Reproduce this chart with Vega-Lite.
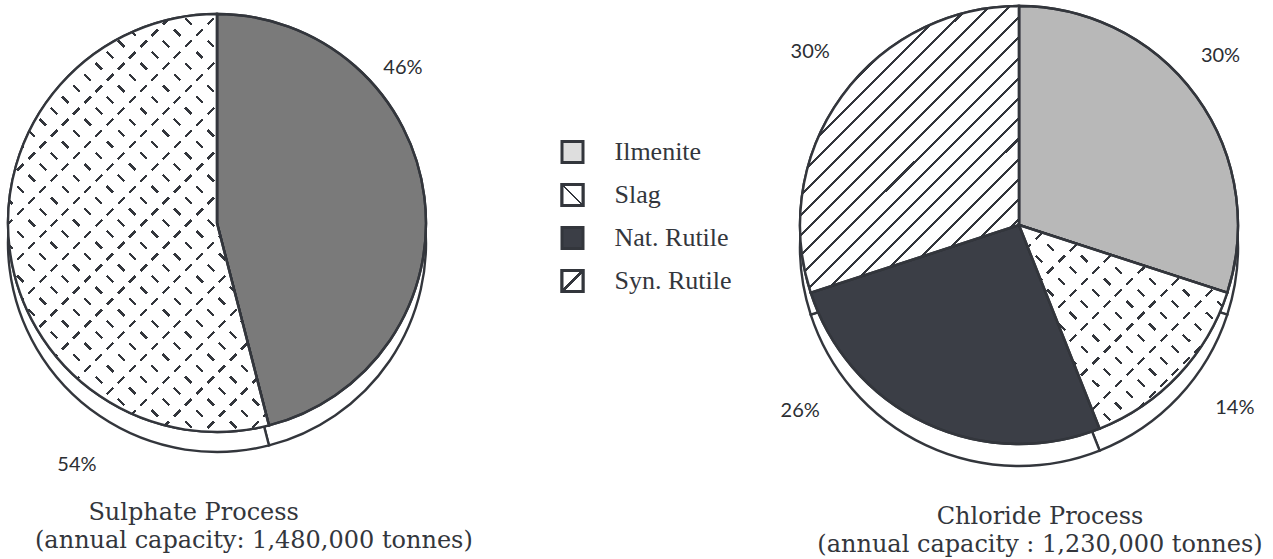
{
  "$schema": "https://vega.github.io/schema/vega-lite/v6.json",
  "padding": 0,
  "spacing": 0,
  "bounds": "flush",
  "background": "white",
  "config": {"view": {"stroke": null}},
  "resolve": {"scale": {"fill": "independent", "theta": "independent", "y": "independent"}},
  "hconcat": [
    {
      "width": 434,
      "height": 446,
      "title": {"text": "\u200b\u00a0\u00a0\u00a0\u00a0\u00a0\u00a0\u00a0Sulphate Process", "subtitle": "(annual capacity: 1,480,000 tonnes)", "orient": "bottom", "anchor": "start", "frame": "group", "baseline": "top", "offset": 26, "dx": 35, "font": "DejaVu Serif", "fontSize": 24, "fontWeight": "normal", "color": "#33363c", "subtitleFont": "DejaVu Serif", "subtitleFontSize": 24, "subtitleColor": "#33363c", "subtitlePadding": 4},
      "data": {"values": [{"material": "Ilmenite", "share": 0.46}, {"material": "Slag", "share": 0.54}]},
      "transform": [{"stack": "share", "groupby": [], "as": ["s0", "s1"]}],
      "encoding": {"theta": {"field": "s0", "type": "quantitative", "scale": {"domain": [0, 1]}}},
      "layer": [
        {"mark": {"type": "arc", "radius": 209, "yOffset": 20, "fill": "#ffffff", "stroke": "#33363c", "strokeWidth": 2.4}, "encoding": {"theta2": {"field": "s1"}}},
        {"mark": {"type": "arc", "radius": 209, "stroke": "#33363c", "strokeWidth": 2.4}, "encoding": {"theta2": {"field": "s1"}, "fill": {"field": "material", "type": "nominal", "scale": {"domain": ["Ilmenite", "Slag"], "range": ["#7a7a7a", "#ffffff"]}, "legend": null}}},
        {"transform": [{"filter": "datum.material === 'Slag'"}], "mark": {"type": "arc", "radius": 209, "fill": {"gradient": "linear", "x1": 0, "y1": 1, "x2": 0.7298, "y2": -0.1687, "stops": [
          {"offset":0.010,"color":"#fff"},{"offset":0.010,"color":"#33363c"},{"offset":0.015,"color":"#33363c"},{"offset":0.015,"color":"#fff"},
          {"offset":0.043,"color":"#fff"},{"offset":0.043,"color":"#33363c"},{"offset":0.048,"color":"#33363c"},{"offset":0.048,"color":"#fff"},
          {"offset":0.076,"color":"#fff"},{"offset":0.076,"color":"#33363c"},{"offset":0.081,"color":"#33363c"},{"offset":0.081,"color":"#fff"},
          {"offset":0.109,"color":"#fff"},{"offset":0.109,"color":"#33363c"},{"offset":0.114,"color":"#33363c"},{"offset":0.114,"color":"#fff"},
          {"offset":0.142,"color":"#fff"},{"offset":0.142,"color":"#33363c"},{"offset":0.147,"color":"#33363c"},{"offset":0.147,"color":"#fff"},
          {"offset":0.175,"color":"#fff"},{"offset":0.175,"color":"#33363c"},{"offset":0.180,"color":"#33363c"},{"offset":0.180,"color":"#fff"},
          {"offset":0.208,"color":"#fff"},{"offset":0.208,"color":"#33363c"},{"offset":0.213,"color":"#33363c"},{"offset":0.213,"color":"#fff"},
          {"offset":0.241,"color":"#fff"},{"offset":0.241,"color":"#33363c"},{"offset":0.246,"color":"#33363c"},{"offset":0.246,"color":"#fff"},
          {"offset":0.274,"color":"#fff"},{"offset":0.274,"color":"#33363c"},{"offset":0.279,"color":"#33363c"},{"offset":0.279,"color":"#fff"},
          {"offset":0.307,"color":"#fff"},{"offset":0.307,"color":"#33363c"},{"offset":0.312,"color":"#33363c"},{"offset":0.312,"color":"#fff"},
          {"offset":0.340,"color":"#fff"},{"offset":0.340,"color":"#33363c"},{"offset":0.345,"color":"#33363c"},{"offset":0.345,"color":"#fff"},
          {"offset":0.373,"color":"#fff"},{"offset":0.373,"color":"#33363c"},{"offset":0.378,"color":"#33363c"},{"offset":0.378,"color":"#fff"},
          {"offset":0.406,"color":"#fff"},{"offset":0.406,"color":"#33363c"},{"offset":0.411,"color":"#33363c"},{"offset":0.411,"color":"#fff"},
          {"offset":0.439,"color":"#fff"},{"offset":0.439,"color":"#33363c"},{"offset":0.444,"color":"#33363c"},{"offset":0.444,"color":"#fff"},
          {"offset":0.472,"color":"#fff"},{"offset":0.472,"color":"#33363c"},{"offset":0.477,"color":"#33363c"},{"offset":0.477,"color":"#fff"},
          {"offset":0.505,"color":"#fff"},{"offset":0.505,"color":"#33363c"},{"offset":0.510,"color":"#33363c"},{"offset":0.510,"color":"#fff"},
          {"offset":0.538,"color":"#fff"},{"offset":0.538,"color":"#33363c"},{"offset":0.543,"color":"#33363c"},{"offset":0.543,"color":"#fff"},
          {"offset":0.571,"color":"#fff"},{"offset":0.571,"color":"#33363c"},{"offset":0.576,"color":"#33363c"},{"offset":0.576,"color":"#fff"},
          {"offset":0.604,"color":"#fff"},{"offset":0.604,"color":"#33363c"},{"offset":0.609,"color":"#33363c"},{"offset":0.609,"color":"#fff"},
          {"offset":0.637,"color":"#fff"},{"offset":0.637,"color":"#33363c"},{"offset":0.642,"color":"#33363c"},{"offset":0.642,"color":"#fff"},
          {"offset":0.670,"color":"#fff"},{"offset":0.670,"color":"#33363c"},{"offset":0.675,"color":"#33363c"},{"offset":0.675,"color":"#fff"},
          {"offset":0.703,"color":"#fff"},{"offset":0.703,"color":"#33363c"},{"offset":0.708,"color":"#33363c"},{"offset":0.708,"color":"#fff"},
          {"offset":0.736,"color":"#fff"},{"offset":0.736,"color":"#33363c"},{"offset":0.741,"color":"#33363c"},{"offset":0.741,"color":"#fff"},
          {"offset":0.769,"color":"#fff"},{"offset":0.769,"color":"#33363c"},{"offset":0.774,"color":"#33363c"},{"offset":0.774,"color":"#fff"},
          {"offset":0.802,"color":"#fff"},{"offset":0.802,"color":"#33363c"},{"offset":0.807,"color":"#33363c"},{"offset":0.807,"color":"#fff"},
          {"offset":0.835,"color":"#fff"},{"offset":0.835,"color":"#33363c"},{"offset":0.840,"color":"#33363c"},{"offset":0.840,"color":"#fff"},
          {"offset":0.868,"color":"#fff"},{"offset":0.868,"color":"#33363c"},{"offset":0.873,"color":"#33363c"},{"offset":0.873,"color":"#fff"},
          {"offset":0.901,"color":"#fff"},{"offset":0.901,"color":"#33363c"},{"offset":0.906,"color":"#33363c"},{"offset":0.906,"color":"#fff"},
          {"offset":0.934,"color":"#fff"},{"offset":0.934,"color":"#33363c"},{"offset":0.939,"color":"#33363c"},{"offset":0.939,"color":"#fff"},
          {"offset":0.967,"color":"#fff"},{"offset":0.967,"color":"#33363c"},{"offset":0.972,"color":"#33363c"},{"offset":0.972,"color":"#fff"}
        ]}}, "encoding": {"theta2": {"field": "s1"}}},
        {"transform": [{"filter": "datum.material === 'Slag'"}], "mark": {"type": "arc", "radius": 209, "fill": {"gradient": "linear", "x1": 0, "y1": 0, "x2": 0.7298, "y2": 1.1687, "stops": [
          {"offset":0.003,"color":"#fff"},{"offset":0.003,"color":"rgba(0,0,0,0)"},{"offset":0.022,"color":"rgba(0,0,0,0)"},{"offset":0.022,"color":"#fff"},
          {"offset":0.069,"color":"#fff"},{"offset":0.069,"color":"rgba(0,0,0,0)"},{"offset":0.088,"color":"rgba(0,0,0,0)"},{"offset":0.088,"color":"#fff"},
          {"offset":0.135,"color":"#fff"},{"offset":0.135,"color":"rgba(0,0,0,0)"},{"offset":0.154,"color":"rgba(0,0,0,0)"},{"offset":0.154,"color":"#fff"},
          {"offset":0.201,"color":"#fff"},{"offset":0.201,"color":"rgba(0,0,0,0)"},{"offset":0.220,"color":"rgba(0,0,0,0)"},{"offset":0.220,"color":"#fff"},
          {"offset":0.267,"color":"#fff"},{"offset":0.267,"color":"rgba(0,0,0,0)"},{"offset":0.286,"color":"rgba(0,0,0,0)"},{"offset":0.286,"color":"#fff"},
          {"offset":0.333,"color":"#fff"},{"offset":0.333,"color":"rgba(0,0,0,0)"},{"offset":0.352,"color":"rgba(0,0,0,0)"},{"offset":0.352,"color":"#fff"},
          {"offset":0.399,"color":"#fff"},{"offset":0.399,"color":"rgba(0,0,0,0)"},{"offset":0.418,"color":"rgba(0,0,0,0)"},{"offset":0.418,"color":"#fff"},
          {"offset":0.465,"color":"#fff"},{"offset":0.465,"color":"rgba(0,0,0,0)"},{"offset":0.484,"color":"rgba(0,0,0,0)"},{"offset":0.484,"color":"#fff"},
          {"offset":0.531,"color":"#fff"},{"offset":0.531,"color":"rgba(0,0,0,0)"},{"offset":0.550,"color":"rgba(0,0,0,0)"},{"offset":0.550,"color":"#fff"},
          {"offset":0.597,"color":"#fff"},{"offset":0.597,"color":"rgba(0,0,0,0)"},{"offset":0.616,"color":"rgba(0,0,0,0)"},{"offset":0.616,"color":"#fff"},
          {"offset":0.663,"color":"#fff"},{"offset":0.663,"color":"rgba(0,0,0,0)"},{"offset":0.682,"color":"rgba(0,0,0,0)"},{"offset":0.682,"color":"#fff"},
          {"offset":0.729,"color":"#fff"},{"offset":0.729,"color":"rgba(0,0,0,0)"},{"offset":0.748,"color":"rgba(0,0,0,0)"},{"offset":0.748,"color":"#fff"},
          {"offset":0.795,"color":"#fff"},{"offset":0.795,"color":"rgba(0,0,0,0)"},{"offset":0.814,"color":"rgba(0,0,0,0)"},{"offset":0.814,"color":"#fff"},
          {"offset":0.861,"color":"#fff"},{"offset":0.861,"color":"rgba(0,0,0,0)"},{"offset":0.880,"color":"rgba(0,0,0,0)"},{"offset":0.880,"color":"#fff"},
          {"offset":0.927,"color":"#fff"},{"offset":0.927,"color":"rgba(0,0,0,0)"},{"offset":0.946,"color":"rgba(0,0,0,0)"},{"offset":0.946,"color":"#fff"}
        ]}}, "encoding": {"theta2": {"field": "s1"}}},
        {"transform": [{"filter": "datum.material === 'Slag'"}], "mark": {"type": "arc", "radius": 209, "fill": {"gradient": "linear", "x1": 0, "y1": 0, "x2": 0.7298, "y2": 1.1687, "stops": [
          {"offset":0.043,"color":"rgba(0,0,0,0)"},{"offset":0.043,"color":"#33363c"},{"offset":0.048,"color":"#33363c"},{"offset":0.048,"color":"rgba(0,0,0,0)"},
          {"offset":0.109,"color":"rgba(0,0,0,0)"},{"offset":0.109,"color":"#33363c"},{"offset":0.114,"color":"#33363c"},{"offset":0.114,"color":"rgba(0,0,0,0)"},
          {"offset":0.175,"color":"rgba(0,0,0,0)"},{"offset":0.175,"color":"#33363c"},{"offset":0.180,"color":"#33363c"},{"offset":0.180,"color":"rgba(0,0,0,0)"},
          {"offset":0.241,"color":"rgba(0,0,0,0)"},{"offset":0.241,"color":"#33363c"},{"offset":0.246,"color":"#33363c"},{"offset":0.246,"color":"rgba(0,0,0,0)"},
          {"offset":0.307,"color":"rgba(0,0,0,0)"},{"offset":0.307,"color":"#33363c"},{"offset":0.312,"color":"#33363c"},{"offset":0.312,"color":"rgba(0,0,0,0)"},
          {"offset":0.373,"color":"rgba(0,0,0,0)"},{"offset":0.373,"color":"#33363c"},{"offset":0.378,"color":"#33363c"},{"offset":0.378,"color":"rgba(0,0,0,0)"},
          {"offset":0.439,"color":"rgba(0,0,0,0)"},{"offset":0.439,"color":"#33363c"},{"offset":0.444,"color":"#33363c"},{"offset":0.444,"color":"rgba(0,0,0,0)"},
          {"offset":0.505,"color":"rgba(0,0,0,0)"},{"offset":0.505,"color":"#33363c"},{"offset":0.510,"color":"#33363c"},{"offset":0.510,"color":"rgba(0,0,0,0)"},
          {"offset":0.571,"color":"rgba(0,0,0,0)"},{"offset":0.571,"color":"#33363c"},{"offset":0.576,"color":"#33363c"},{"offset":0.576,"color":"rgba(0,0,0,0)"},
          {"offset":0.637,"color":"rgba(0,0,0,0)"},{"offset":0.637,"color":"#33363c"},{"offset":0.642,"color":"#33363c"},{"offset":0.642,"color":"rgba(0,0,0,0)"},
          {"offset":0.703,"color":"rgba(0,0,0,0)"},{"offset":0.703,"color":"#33363c"},{"offset":0.708,"color":"#33363c"},{"offset":0.708,"color":"rgba(0,0,0,0)"},
          {"offset":0.769,"color":"rgba(0,0,0,0)"},{"offset":0.769,"color":"#33363c"},{"offset":0.774,"color":"#33363c"},{"offset":0.774,"color":"rgba(0,0,0,0)"},
          {"offset":0.835,"color":"rgba(0,0,0,0)"},{"offset":0.835,"color":"#33363c"},{"offset":0.840,"color":"#33363c"},{"offset":0.840,"color":"rgba(0,0,0,0)"},
          {"offset":0.901,"color":"rgba(0,0,0,0)"},{"offset":0.901,"color":"#33363c"},{"offset":0.906,"color":"#33363c"},{"offset":0.906,"color":"rgba(0,0,0,0)"},
          {"offset":0.967,"color":"rgba(0,0,0,0)"},{"offset":0.967,"color":"#33363c"},{"offset":0.972,"color":"#33363c"},{"offset":0.972,"color":"rgba(0,0,0,0)"}
        ]}}, "encoding": {"theta2": {"field": "s1"}}},
        {"transform": [{"filter": "datum.material === 'Slag'"}], "mark": {"type": "arc", "radius": 209, "fill": {"gradient": "linear", "x1": 0, "y1": 1, "x2": 0.7298, "y2": -0.1687, "stops": [
          {"offset":0.003,"color":"#fff"},{"offset":0.003,"color":"rgba(0,0,0,0)"},{"offset":0.022,"color":"rgba(0,0,0,0)"},{"offset":0.022,"color":"#fff"},
          {"offset":0.036,"color":"#fff"},{"offset":0.036,"color":"rgba(0,0,0,0)"},{"offset":0.055,"color":"rgba(0,0,0,0)"},{"offset":0.055,"color":"#fff"},
          {"offset":0.069,"color":"#fff"},{"offset":0.069,"color":"rgba(0,0,0,0)"},{"offset":0.088,"color":"rgba(0,0,0,0)"},{"offset":0.088,"color":"#fff"},
          {"offset":0.102,"color":"#fff"},{"offset":0.102,"color":"rgba(0,0,0,0)"},{"offset":0.121,"color":"rgba(0,0,0,0)"},{"offset":0.121,"color":"#fff"},
          {"offset":0.135,"color":"#fff"},{"offset":0.135,"color":"rgba(0,0,0,0)"},{"offset":0.154,"color":"rgba(0,0,0,0)"},{"offset":0.154,"color":"#fff"},
          {"offset":0.168,"color":"#fff"},{"offset":0.168,"color":"rgba(0,0,0,0)"},{"offset":0.187,"color":"rgba(0,0,0,0)"},{"offset":0.187,"color":"#fff"},
          {"offset":0.201,"color":"#fff"},{"offset":0.201,"color":"rgba(0,0,0,0)"},{"offset":0.220,"color":"rgba(0,0,0,0)"},{"offset":0.220,"color":"#fff"},
          {"offset":0.234,"color":"#fff"},{"offset":0.234,"color":"rgba(0,0,0,0)"},{"offset":0.253,"color":"rgba(0,0,0,0)"},{"offset":0.253,"color":"#fff"},
          {"offset":0.267,"color":"#fff"},{"offset":0.267,"color":"rgba(0,0,0,0)"},{"offset":0.286,"color":"rgba(0,0,0,0)"},{"offset":0.286,"color":"#fff"},
          {"offset":0.300,"color":"#fff"},{"offset":0.300,"color":"rgba(0,0,0,0)"},{"offset":0.319,"color":"rgba(0,0,0,0)"},{"offset":0.319,"color":"#fff"},
          {"offset":0.333,"color":"#fff"},{"offset":0.333,"color":"rgba(0,0,0,0)"},{"offset":0.352,"color":"rgba(0,0,0,0)"},{"offset":0.352,"color":"#fff"},
          {"offset":0.366,"color":"#fff"},{"offset":0.366,"color":"rgba(0,0,0,0)"},{"offset":0.385,"color":"rgba(0,0,0,0)"},{"offset":0.385,"color":"#fff"},
          {"offset":0.399,"color":"#fff"},{"offset":0.399,"color":"rgba(0,0,0,0)"},{"offset":0.418,"color":"rgba(0,0,0,0)"},{"offset":0.418,"color":"#fff"},
          {"offset":0.432,"color":"#fff"},{"offset":0.432,"color":"rgba(0,0,0,0)"},{"offset":0.451,"color":"rgba(0,0,0,0)"},{"offset":0.451,"color":"#fff"},
          {"offset":0.465,"color":"#fff"},{"offset":0.465,"color":"rgba(0,0,0,0)"},{"offset":0.484,"color":"rgba(0,0,0,0)"},{"offset":0.484,"color":"#fff"},
          {"offset":0.498,"color":"#fff"},{"offset":0.498,"color":"rgba(0,0,0,0)"},{"offset":0.517,"color":"rgba(0,0,0,0)"},{"offset":0.517,"color":"#fff"},
          {"offset":0.531,"color":"#fff"},{"offset":0.531,"color":"rgba(0,0,0,0)"},{"offset":0.550,"color":"rgba(0,0,0,0)"},{"offset":0.550,"color":"#fff"},
          {"offset":0.564,"color":"#fff"},{"offset":0.564,"color":"rgba(0,0,0,0)"},{"offset":0.583,"color":"rgba(0,0,0,0)"},{"offset":0.583,"color":"#fff"},
          {"offset":0.597,"color":"#fff"},{"offset":0.597,"color":"rgba(0,0,0,0)"},{"offset":0.616,"color":"rgba(0,0,0,0)"},{"offset":0.616,"color":"#fff"},
          {"offset":0.630,"color":"#fff"},{"offset":0.630,"color":"rgba(0,0,0,0)"},{"offset":0.649,"color":"rgba(0,0,0,0)"},{"offset":0.649,"color":"#fff"},
          {"offset":0.663,"color":"#fff"},{"offset":0.663,"color":"rgba(0,0,0,0)"},{"offset":0.682,"color":"rgba(0,0,0,0)"},{"offset":0.682,"color":"#fff"},
          {"offset":0.696,"color":"#fff"},{"offset":0.696,"color":"rgba(0,0,0,0)"},{"offset":0.715,"color":"rgba(0,0,0,0)"},{"offset":0.715,"color":"#fff"},
          {"offset":0.729,"color":"#fff"},{"offset":0.729,"color":"rgba(0,0,0,0)"},{"offset":0.748,"color":"rgba(0,0,0,0)"},{"offset":0.748,"color":"#fff"},
          {"offset":0.762,"color":"#fff"},{"offset":0.762,"color":"rgba(0,0,0,0)"},{"offset":0.781,"color":"rgba(0,0,0,0)"},{"offset":0.781,"color":"#fff"},
          {"offset":0.795,"color":"#fff"},{"offset":0.795,"color":"rgba(0,0,0,0)"},{"offset":0.814,"color":"rgba(0,0,0,0)"},{"offset":0.814,"color":"#fff"},
          {"offset":0.828,"color":"#fff"},{"offset":0.828,"color":"rgba(0,0,0,0)"},{"offset":0.847,"color":"rgba(0,0,0,0)"},{"offset":0.847,"color":"#fff"},
          {"offset":0.861,"color":"#fff"},{"offset":0.861,"color":"rgba(0,0,0,0)"},{"offset":0.880,"color":"rgba(0,0,0,0)"},{"offset":0.880,"color":"#fff"},
          {"offset":0.894,"color":"#fff"},{"offset":0.894,"color":"rgba(0,0,0,0)"},{"offset":0.913,"color":"rgba(0,0,0,0)"},{"offset":0.913,"color":"#fff"},
          {"offset":0.927,"color":"#fff"},{"offset":0.927,"color":"rgba(0,0,0,0)"},{"offset":0.946,"color":"rgba(0,0,0,0)"},{"offset":0.946,"color":"#fff"},
          {"offset":0.960,"color":"#fff"},{"offset":0.960,"color":"rgba(0,0,0,0)"},{"offset":0.979,"color":"rgba(0,0,0,0)"},{"offset":0.979,"color":"#fff"}
        ]}}, "encoding": {"theta2": {"field": "s1"}}},
        {"mark": {"type": "arc", "radius": 209, "fillOpacity": 0, "stroke": "#33363c", "strokeWidth": 2.4}, "encoding": {"theta2": {"field": "s1"}}},
        {"transform": [{"filter": "datum.material === 'Ilmenite'"}], "mark": {"type": "text", "radius": 242, "thetaOffset": 0.876, "font": "Lato", "fontSize": 20, "fill": "#2b2e33"}, "encoding": {"text": {"field": "share", "type": "quantitative", "format": ".0%"}}},
        {"transform": [{"filter": "datum.material === 'Slag'"}], "mark": {"type": "text", "radius": 280, "thetaOffset": 0.775, "font": "Lato", "fontSize": 20, "fill": "#2b2e33"}, "encoding": {"text": {"field": "share", "type": "quantitative", "format": ".0%"}}}
      ]
    },
    {
      "width": 331,
      "height": 446,
      "data": {"values": [{"material": "Ilmenite"}, {"material": "Slag"}, {"material": "Nat. Rutile"}, {"material": "Syn. Rutile"}]},
      "encoding": {"y": {"field": "material", "type": "nominal", "axis": null, "scale": {"type": "point", "domain": ["Ilmenite", "Slag", "Nat. Rutile", "Syn. Rutile"], "range": [152, 281], "padding": 0}}},
      "layer": [
        {"mark": {"type": "square", "size": 441, "xOffset": -27, "opacity": 1, "stroke": "#33363c", "strokeWidth": 3}, "encoding": {"fill": {"field": "material", "type": "nominal", "scale": {"domain": ["Ilmenite", "Slag", "Nat. Rutile", "Syn. Rutile"], "range": ["#dedede", "#ffffff", "#3b3e46", "#ffffff"]}, "legend": null}}},
        {"transform": [{"filter": "datum.material === 'Syn. Rutile'"}], "mark": {"type": "square", "size": 441, "xOffset": -27, "opacity": 1, "stroke": "#33363c", "strokeWidth": 3, "fill": {"gradient": "linear", "x1": 0, "y1": 0, "x2": 1, "y2": 1, "stops": [{"offset": 0.46, "color": "#ffffff"}, {"offset": 0.46, "color": "#33363c"}, {"offset": 0.54, "color": "#33363c"}, {"offset": 0.54, "color": "#ffffff"}]}}},
        {"transform": [{"filter": "datum.material === 'Slag'"}], "mark": {"type": "square", "size": 441, "xOffset": -27, "opacity": 1, "stroke": "#33363c", "strokeWidth": 3, "fill": {"gradient": "linear", "x1": 0, "y1": 1, "x2": 1, "y2": 0, "stops": [{"offset": 0.47, "color": "#ffffff"}, {"offset": 0.47, "color": "#33363c"}, {"offset": 0.53, "color": "#33363c"}, {"offset": 0.53, "color": "#ffffff"}]}}},
        {"mark": {"type": "text", "align": "left", "dx": 15, "font": "Liberation Serif", "fontSize": 26, "fill": "#33363c"}, "encoding": {"text": {"field": "material"}}}
      ]
    },
    {
      "width": 508,
      "height": 450,
      "title": {"text": "Chloride Process", "subtitle": "(annual capacity : 1,230,000 tonnes)", "orient": "bottom", "anchor": "middle", "frame": "group", "baseline": "top", "offset": 34, "dx": 21, "font": "DejaVu Serif", "fontSize": 24, "fontWeight": "normal", "color": "#33363c", "subtitleFont": "DejaVu Serif", "subtitleFontSize": 24, "subtitleColor": "#33363c", "subtitlePadding": 4},
      "data": {"values": [{"material": "Ilmenite", "share": 0.30}, {"material": "Slag", "share": 0.14}, {"material": "Nat. Rutile", "share": 0.26}, {"material": "Syn. Rutile", "share": 0.30}]},
      "transform": [{"stack": "share", "groupby": [], "as": ["s0", "s1"]}],
      "encoding": {"theta": {"field": "s0", "type": "quantitative", "scale": {"domain": [0, 1]}}},
      "layer": [
        {"mark": {"type": "arc", "radius": 219, "yOffset": 22, "fill": "#ffffff", "stroke": "#33363c", "strokeWidth": 2.4}, "encoding": {"theta2": {"field": "s1"}}},
        {"mark": {"type": "arc", "radius": 219, "stroke": "#33363c", "strokeWidth": 2.4}, "encoding": {"theta2": {"field": "s1"}, "fill": {"field": "material", "type": "nominal", "scale": {"domain": ["Ilmenite", "Slag", "Nat. Rutile", "Syn. Rutile"], "range": ["#b8b8b8", "#ffffff", "#3b3e46", "#ffffff"]}, "legend": null}}},
        {"transform": [{"filter": "datum.material === 'Syn. Rutile'"}], "mark": {"type": "arc", "radius": 219, "fill": {"gradient": "linear", "x1": 0, "y1": 0, "x2": 0.8502, "y2": 1.1142, "stops": [
          {"offset":0.012,"color":"#fff"},{"offset":0.012,"color":"#33363c"},{"offset":0.018,"color":"#33363c"},{"offset":0.018,"color":"#fff"},
          {"offset":0.052,"color":"#fff"},{"offset":0.052,"color":"#33363c"},{"offset":0.058,"color":"#33363c"},{"offset":0.058,"color":"#fff"},
          {"offset":0.092,"color":"#fff"},{"offset":0.092,"color":"#33363c"},{"offset":0.098,"color":"#33363c"},{"offset":0.098,"color":"#fff"},
          {"offset":0.132,"color":"#fff"},{"offset":0.132,"color":"#33363c"},{"offset":0.138,"color":"#33363c"},{"offset":0.138,"color":"#fff"},
          {"offset":0.172,"color":"#fff"},{"offset":0.172,"color":"#33363c"},{"offset":0.178,"color":"#33363c"},{"offset":0.178,"color":"#fff"},
          {"offset":0.212,"color":"#fff"},{"offset":0.212,"color":"#33363c"},{"offset":0.218,"color":"#33363c"},{"offset":0.218,"color":"#fff"},
          {"offset":0.252,"color":"#fff"},{"offset":0.252,"color":"#33363c"},{"offset":0.258,"color":"#33363c"},{"offset":0.258,"color":"#fff"},
          {"offset":0.292,"color":"#fff"},{"offset":0.292,"color":"#33363c"},{"offset":0.298,"color":"#33363c"},{"offset":0.298,"color":"#fff"},
          {"offset":0.332,"color":"#fff"},{"offset":0.332,"color":"#33363c"},{"offset":0.338,"color":"#33363c"},{"offset":0.338,"color":"#fff"},
          {"offset":0.372,"color":"#fff"},{"offset":0.372,"color":"#33363c"},{"offset":0.378,"color":"#33363c"},{"offset":0.378,"color":"#fff"},
          {"offset":0.412,"color":"#fff"},{"offset":0.412,"color":"#33363c"},{"offset":0.418,"color":"#33363c"},{"offset":0.418,"color":"#fff"},
          {"offset":0.452,"color":"#fff"},{"offset":0.452,"color":"#33363c"},{"offset":0.458,"color":"#33363c"},{"offset":0.458,"color":"#fff"},
          {"offset":0.492,"color":"#fff"},{"offset":0.492,"color":"#33363c"},{"offset":0.498,"color":"#33363c"},{"offset":0.498,"color":"#fff"},
          {"offset":0.532,"color":"#fff"},{"offset":0.532,"color":"#33363c"},{"offset":0.538,"color":"#33363c"},{"offset":0.538,"color":"#fff"},
          {"offset":0.572,"color":"#fff"},{"offset":0.572,"color":"#33363c"},{"offset":0.578,"color":"#33363c"},{"offset":0.578,"color":"#fff"},
          {"offset":0.612,"color":"#fff"},{"offset":0.612,"color":"#33363c"},{"offset":0.618,"color":"#33363c"},{"offset":0.618,"color":"#fff"},
          {"offset":0.652,"color":"#fff"},{"offset":0.652,"color":"#33363c"},{"offset":0.658,"color":"#33363c"},{"offset":0.658,"color":"#fff"},
          {"offset":0.692,"color":"#fff"},{"offset":0.692,"color":"#33363c"},{"offset":0.698,"color":"#33363c"},{"offset":0.698,"color":"#fff"},
          {"offset":0.732,"color":"#fff"},{"offset":0.732,"color":"#33363c"},{"offset":0.738,"color":"#33363c"},{"offset":0.738,"color":"#fff"},
          {"offset":0.772,"color":"#fff"},{"offset":0.772,"color":"#33363c"},{"offset":0.778,"color":"#33363c"},{"offset":0.778,"color":"#fff"},
          {"offset":0.812,"color":"#fff"},{"offset":0.812,"color":"#33363c"},{"offset":0.818,"color":"#33363c"},{"offset":0.818,"color":"#fff"},
          {"offset":0.852,"color":"#fff"},{"offset":0.852,"color":"#33363c"},{"offset":0.858,"color":"#33363c"},{"offset":0.858,"color":"#fff"},
          {"offset":0.892,"color":"#fff"},{"offset":0.892,"color":"#33363c"},{"offset":0.898,"color":"#33363c"},{"offset":0.898,"color":"#fff"},
          {"offset":0.932,"color":"#fff"},{"offset":0.932,"color":"#33363c"},{"offset":0.938,"color":"#33363c"},{"offset":0.938,"color":"#fff"},
          {"offset":0.972,"color":"#fff"},{"offset":0.972,"color":"#33363c"},{"offset":0.978,"color":"#33363c"},{"offset":0.978,"color":"#fff"}
        ]}}, "encoding": {"theta2": {"field": "s1"}}},
        {"transform": [{"filter": "datum.material === 'Slag'"}], "mark": {"type": "arc", "radius": 219, "fill": {"gradient": "linear", "x1": 0, "y1": 1, "x2": 1.0096, "y2": 0.0098, "stops": [
          {"offset":0.017,"color":"#fff"},{"offset":0.017,"color":"#33363c"},{"offset":0.025,"color":"#33363c"},{"offset":0.025,"color":"#fff"},
          {"offset":0.072,"color":"#fff"},{"offset":0.072,"color":"#33363c"},{"offset":0.080,"color":"#33363c"},{"offset":0.080,"color":"#fff"},
          {"offset":0.127,"color":"#fff"},{"offset":0.127,"color":"#33363c"},{"offset":0.135,"color":"#33363c"},{"offset":0.135,"color":"#fff"},
          {"offset":0.182,"color":"#fff"},{"offset":0.182,"color":"#33363c"},{"offset":0.190,"color":"#33363c"},{"offset":0.190,"color":"#fff"},
          {"offset":0.237,"color":"#fff"},{"offset":0.237,"color":"#33363c"},{"offset":0.245,"color":"#33363c"},{"offset":0.245,"color":"#fff"},
          {"offset":0.292,"color":"#fff"},{"offset":0.292,"color":"#33363c"},{"offset":0.300,"color":"#33363c"},{"offset":0.300,"color":"#fff"},
          {"offset":0.347,"color":"#fff"},{"offset":0.347,"color":"#33363c"},{"offset":0.355,"color":"#33363c"},{"offset":0.355,"color":"#fff"},
          {"offset":0.402,"color":"#fff"},{"offset":0.402,"color":"#33363c"},{"offset":0.410,"color":"#33363c"},{"offset":0.410,"color":"#fff"},
          {"offset":0.457,"color":"#fff"},{"offset":0.457,"color":"#33363c"},{"offset":0.465,"color":"#33363c"},{"offset":0.465,"color":"#fff"},
          {"offset":0.512,"color":"#fff"},{"offset":0.512,"color":"#33363c"},{"offset":0.520,"color":"#33363c"},{"offset":0.520,"color":"#fff"},
          {"offset":0.567,"color":"#fff"},{"offset":0.567,"color":"#33363c"},{"offset":0.575,"color":"#33363c"},{"offset":0.575,"color":"#fff"},
          {"offset":0.622,"color":"#fff"},{"offset":0.622,"color":"#33363c"},{"offset":0.630,"color":"#33363c"},{"offset":0.630,"color":"#fff"},
          {"offset":0.677,"color":"#fff"},{"offset":0.677,"color":"#33363c"},{"offset":0.685,"color":"#33363c"},{"offset":0.685,"color":"#fff"},
          {"offset":0.732,"color":"#fff"},{"offset":0.732,"color":"#33363c"},{"offset":0.740,"color":"#33363c"},{"offset":0.740,"color":"#fff"},
          {"offset":0.787,"color":"#fff"},{"offset":0.787,"color":"#33363c"},{"offset":0.795,"color":"#33363c"},{"offset":0.795,"color":"#fff"},
          {"offset":0.842,"color":"#fff"},{"offset":0.842,"color":"#33363c"},{"offset":0.850,"color":"#33363c"},{"offset":0.850,"color":"#fff"},
          {"offset":0.897,"color":"#fff"},{"offset":0.897,"color":"#33363c"},{"offset":0.905,"color":"#33363c"},{"offset":0.905,"color":"#fff"},
          {"offset":0.952,"color":"#fff"},{"offset":0.952,"color":"#33363c"},{"offset":0.960,"color":"#33363c"},{"offset":0.960,"color":"#fff"}
        ]}}, "encoding": {"theta2": {"field": "s1"}}},
        {"transform": [{"filter": "datum.material === 'Slag'"}], "mark": {"type": "arc", "radius": 219, "fill": {"gradient": "linear", "x1": 0, "y1": 0, "x2": 1.0096, "y2": 0.9902, "stops": [
          {"offset":0.005,"color":"#fff"},{"offset":0.005,"color":"rgba(0,0,0,0)"},{"offset":0.037,"color":"rgba(0,0,0,0)"},{"offset":0.037,"color":"#fff"},
          {"offset":0.115,"color":"#fff"},{"offset":0.115,"color":"rgba(0,0,0,0)"},{"offset":0.147,"color":"rgba(0,0,0,0)"},{"offset":0.147,"color":"#fff"},
          {"offset":0.225,"color":"#fff"},{"offset":0.225,"color":"rgba(0,0,0,0)"},{"offset":0.257,"color":"rgba(0,0,0,0)"},{"offset":0.257,"color":"#fff"},
          {"offset":0.335,"color":"#fff"},{"offset":0.335,"color":"rgba(0,0,0,0)"},{"offset":0.367,"color":"rgba(0,0,0,0)"},{"offset":0.367,"color":"#fff"},
          {"offset":0.445,"color":"#fff"},{"offset":0.445,"color":"rgba(0,0,0,0)"},{"offset":0.477,"color":"rgba(0,0,0,0)"},{"offset":0.477,"color":"#fff"},
          {"offset":0.555,"color":"#fff"},{"offset":0.555,"color":"rgba(0,0,0,0)"},{"offset":0.587,"color":"rgba(0,0,0,0)"},{"offset":0.587,"color":"#fff"},
          {"offset":0.665,"color":"#fff"},{"offset":0.665,"color":"rgba(0,0,0,0)"},{"offset":0.697,"color":"rgba(0,0,0,0)"},{"offset":0.697,"color":"#fff"},
          {"offset":0.775,"color":"#fff"},{"offset":0.775,"color":"rgba(0,0,0,0)"},{"offset":0.807,"color":"rgba(0,0,0,0)"},{"offset":0.807,"color":"#fff"},
          {"offset":0.885,"color":"#fff"},{"offset":0.885,"color":"rgba(0,0,0,0)"},{"offset":0.917,"color":"rgba(0,0,0,0)"},{"offset":0.917,"color":"#fff"}
        ]}}, "encoding": {"theta2": {"field": "s1"}}},
        {"transform": [{"filter": "datum.material === 'Slag'"}], "mark": {"type": "arc", "radius": 219, "fill": {"gradient": "linear", "x1": 0, "y1": 0, "x2": 1.0096, "y2": 0.9902, "stops": [
          {"offset":0.072,"color":"rgba(0,0,0,0)"},{"offset":0.072,"color":"#33363c"},{"offset":0.080,"color":"#33363c"},{"offset":0.080,"color":"rgba(0,0,0,0)"},
          {"offset":0.182,"color":"rgba(0,0,0,0)"},{"offset":0.182,"color":"#33363c"},{"offset":0.190,"color":"#33363c"},{"offset":0.190,"color":"rgba(0,0,0,0)"},
          {"offset":0.292,"color":"rgba(0,0,0,0)"},{"offset":0.292,"color":"#33363c"},{"offset":0.300,"color":"#33363c"},{"offset":0.300,"color":"rgba(0,0,0,0)"},
          {"offset":0.402,"color":"rgba(0,0,0,0)"},{"offset":0.402,"color":"#33363c"},{"offset":0.410,"color":"#33363c"},{"offset":0.410,"color":"rgba(0,0,0,0)"},
          {"offset":0.512,"color":"rgba(0,0,0,0)"},{"offset":0.512,"color":"#33363c"},{"offset":0.520,"color":"#33363c"},{"offset":0.520,"color":"rgba(0,0,0,0)"},
          {"offset":0.622,"color":"rgba(0,0,0,0)"},{"offset":0.622,"color":"#33363c"},{"offset":0.630,"color":"#33363c"},{"offset":0.630,"color":"rgba(0,0,0,0)"},
          {"offset":0.732,"color":"rgba(0,0,0,0)"},{"offset":0.732,"color":"#33363c"},{"offset":0.740,"color":"#33363c"},{"offset":0.740,"color":"rgba(0,0,0,0)"},
          {"offset":0.842,"color":"rgba(0,0,0,0)"},{"offset":0.842,"color":"#33363c"},{"offset":0.850,"color":"#33363c"},{"offset":0.850,"color":"rgba(0,0,0,0)"},
          {"offset":0.952,"color":"rgba(0,0,0,0)"},{"offset":0.952,"color":"#33363c"},{"offset":0.960,"color":"#33363c"},{"offset":0.960,"color":"rgba(0,0,0,0)"}
        ]}}, "encoding": {"theta2": {"field": "s1"}}},
        {"transform": [{"filter": "datum.material === 'Slag'"}], "mark": {"type": "arc", "radius": 219, "fill": {"gradient": "linear", "x1": 0, "y1": 1, "x2": 1.0096, "y2": 0.0098, "stops": [
          {"offset":0.005,"color":"#fff"},{"offset":0.005,"color":"rgba(0,0,0,0)"},{"offset":0.037,"color":"rgba(0,0,0,0)"},{"offset":0.037,"color":"#fff"},
          {"offset":0.060,"color":"#fff"},{"offset":0.060,"color":"rgba(0,0,0,0)"},{"offset":0.092,"color":"rgba(0,0,0,0)"},{"offset":0.092,"color":"#fff"},
          {"offset":0.115,"color":"#fff"},{"offset":0.115,"color":"rgba(0,0,0,0)"},{"offset":0.147,"color":"rgba(0,0,0,0)"},{"offset":0.147,"color":"#fff"},
          {"offset":0.170,"color":"#fff"},{"offset":0.170,"color":"rgba(0,0,0,0)"},{"offset":0.202,"color":"rgba(0,0,0,0)"},{"offset":0.202,"color":"#fff"},
          {"offset":0.225,"color":"#fff"},{"offset":0.225,"color":"rgba(0,0,0,0)"},{"offset":0.257,"color":"rgba(0,0,0,0)"},{"offset":0.257,"color":"#fff"},
          {"offset":0.280,"color":"#fff"},{"offset":0.280,"color":"rgba(0,0,0,0)"},{"offset":0.312,"color":"rgba(0,0,0,0)"},{"offset":0.312,"color":"#fff"},
          {"offset":0.335,"color":"#fff"},{"offset":0.335,"color":"rgba(0,0,0,0)"},{"offset":0.367,"color":"rgba(0,0,0,0)"},{"offset":0.367,"color":"#fff"},
          {"offset":0.390,"color":"#fff"},{"offset":0.390,"color":"rgba(0,0,0,0)"},{"offset":0.422,"color":"rgba(0,0,0,0)"},{"offset":0.422,"color":"#fff"},
          {"offset":0.445,"color":"#fff"},{"offset":0.445,"color":"rgba(0,0,0,0)"},{"offset":0.477,"color":"rgba(0,0,0,0)"},{"offset":0.477,"color":"#fff"},
          {"offset":0.500,"color":"#fff"},{"offset":0.500,"color":"rgba(0,0,0,0)"},{"offset":0.532,"color":"rgba(0,0,0,0)"},{"offset":0.532,"color":"#fff"},
          {"offset":0.555,"color":"#fff"},{"offset":0.555,"color":"rgba(0,0,0,0)"},{"offset":0.587,"color":"rgba(0,0,0,0)"},{"offset":0.587,"color":"#fff"},
          {"offset":0.610,"color":"#fff"},{"offset":0.610,"color":"rgba(0,0,0,0)"},{"offset":0.642,"color":"rgba(0,0,0,0)"},{"offset":0.642,"color":"#fff"},
          {"offset":0.665,"color":"#fff"},{"offset":0.665,"color":"rgba(0,0,0,0)"},{"offset":0.697,"color":"rgba(0,0,0,0)"},{"offset":0.697,"color":"#fff"},
          {"offset":0.720,"color":"#fff"},{"offset":0.720,"color":"rgba(0,0,0,0)"},{"offset":0.752,"color":"rgba(0,0,0,0)"},{"offset":0.752,"color":"#fff"},
          {"offset":0.775,"color":"#fff"},{"offset":0.775,"color":"rgba(0,0,0,0)"},{"offset":0.807,"color":"rgba(0,0,0,0)"},{"offset":0.807,"color":"#fff"},
          {"offset":0.830,"color":"#fff"},{"offset":0.830,"color":"rgba(0,0,0,0)"},{"offset":0.862,"color":"rgba(0,0,0,0)"},{"offset":0.862,"color":"#fff"},
          {"offset":0.885,"color":"#fff"},{"offset":0.885,"color":"rgba(0,0,0,0)"},{"offset":0.917,"color":"rgba(0,0,0,0)"},{"offset":0.917,"color":"#fff"},
          {"offset":0.940,"color":"#fff"},{"offset":0.940,"color":"rgba(0,0,0,0)"},{"offset":0.972,"color":"rgba(0,0,0,0)"},{"offset":0.972,"color":"#fff"}
        ]}}, "encoding": {"theta2": {"field": "s1"}}},
        {"mark": {"type": "arc", "radius": 219, "fillOpacity": 0, "stroke": "#33363c", "strokeWidth": 2.4}, "encoding": {"theta2": {"field": "s1"}}},
        {"transform": [{"filter": "datum.material === 'Ilmenite'"}], "mark": {"type": "text", "radius": 263, "thetaOffset": 0.873, "font": "Lato", "fontSize": 20, "fill": "#2b2e33"}, "encoding": {"text": {"field": "share", "type": "quantitative", "format": ".0%"}}},
        {"transform": [{"filter": "datum.material === 'Slag'"}], "mark": {"type": "text", "radius": 283, "thetaOffset": 0.389, "font": "Lato", "fontSize": 20, "fill": "#2b2e33"}, "encoding": {"text": {"field": "share", "type": "quantitative", "format": ".0%"}}},
        {"transform": [{"filter": "datum.material === 'Nat. Rutile'"}], "mark": {"type": "text", "radius": 287, "thetaOffset": 1.244, "font": "Lato", "fontSize": 20, "fill": "#2b2e33"}, "encoding": {"text": {"field": "share", "type": "quantitative", "format": ".0%"}}},
        {"transform": [{"filter": "datum.material === 'Syn. Rutile'"}], "mark": {"type": "text", "radius": 271, "thetaOffset": 1.005, "font": "Lato", "fontSize": 20, "fill": "#2b2e33"}, "encoding": {"text": {"field": "share", "type": "quantitative", "format": ".0%"}}}
      ]
    }
  ]
}
